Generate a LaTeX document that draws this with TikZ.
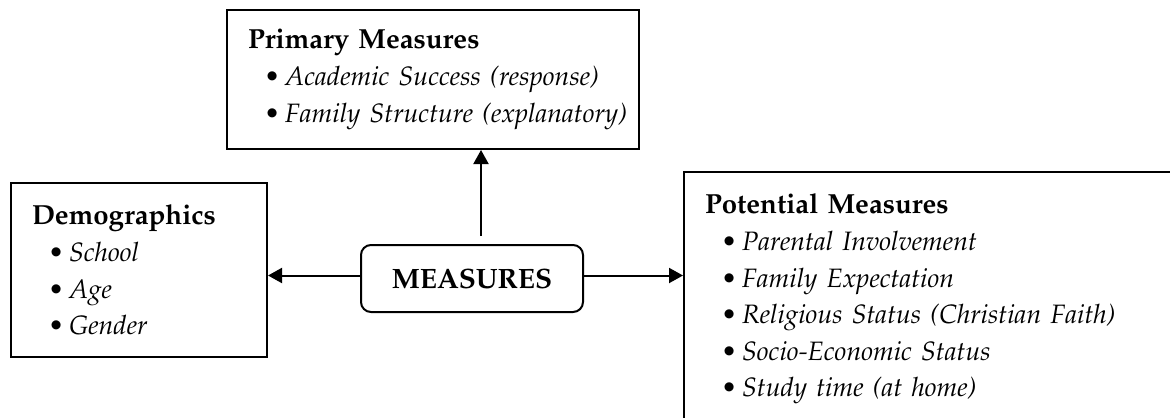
\documentclass[tikz,border=0pt]{standalone}
\usepackage[T1]{fontenc}
\usepackage{mathpazo}
\usetikzlibrary{arrows.meta}
\tikzset{
    measbox/.style={draw, line width=1pt, align=left, inner xsep=0pt, inner ysep=0pt,
        font={\fontsize{13.8pt}{18.3pt}\selectfont}},
    centrebox/.style={draw, line width=1pt, rounded corners=5pt, minimum width=111pt, minimum height=33.5pt,
        font={\fontsize{14pt}{16pt}\selectfont\bfseries}},
    link/.style={line width=1pt, -{Triangle[length=7pt,width=7.5pt]}},
}
\newcommand{\mtitle}[1]{\hspace*{10.5pt}\textbf{#1}}
\newcommand{\mitem}[1]{\hspace*{18.5pt}{\fontsize{13.3pt}{18.3pt}\selectfont\textbullet\hspace{2.5pt}\textit{#1}}}

\begin{document}
\begin{tikzpicture}[x=0.5pt,y=-0.5pt]
    \useasboundingbox (0,0) rectangle (1170,417);
    \clip (0,0) rectangle (1170,417);

    \node[centrebox] (meas) at (472,278.5) {MEASURES};

    \node[measbox, text width=206pt, minimum height=69.5pt] (prim) at (433,79.5)
        {\mtitle{Primary Measures}\\ \mitem{Academic Success (response)}\\ \mitem{Family Structure (explanatory)}};
    \node[measbox, text width=128pt, minimum height=87pt] (demo) at (139,270)
        {\mtitle{Demographics}\\ \mitem{School}\\ \mitem{Age}\\ \mitem{Gender}};
    \node[measbox, text width=300pt, inner ysep=11pt, anchor=north west] (pot) at (683,171)
        {\mtitle{Potential Measures}\\ \mitem{Parental Involvement}\\ \mitem{Family Expectation}\\
         \mitem{Religious Status (Christian Faith)}\\ \mitem{Socio-Economic Status}\\ \mitem{Study time (at home)}};

    \draw[link] ([yshift=1.5pt]meas.west) -- ([yshift=1.5pt]meas.west -| demo.east);
    \draw[link] ([yshift=1.5pt]meas.east) -- ([yshift=1.5pt]meas.east -| pot.west);
    \draw[link, shorten <=4pt] ([xshift=4.5pt]meas.north) -- ([xshift=4.5pt]meas.north |- prim.south);
\end{tikzpicture}
\end{document}
